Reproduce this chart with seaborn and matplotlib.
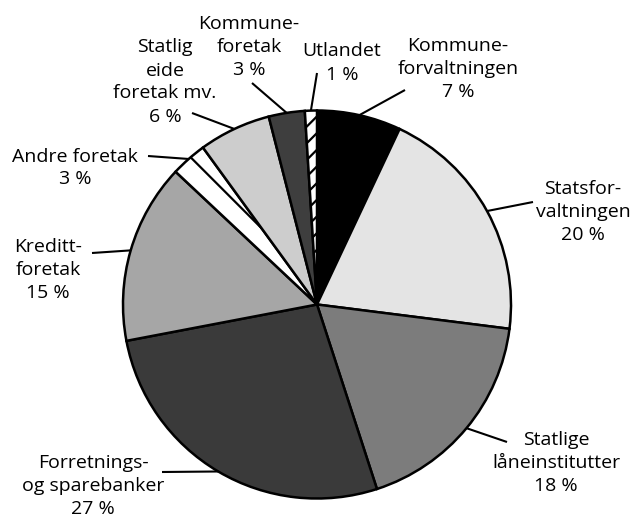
import matplotlib
matplotlib.use("Agg")
import matplotlib.pyplot as plt
import seaborn as sns
import numpy as np

sns.set_theme(style="white")
plt.rcParams['font.family'] = ['Open Sans', 'DejaVu Sans']
plt.rcParams['hatch.linewidth'] = 1.6

# Data
categories = ["Kommuneforvaltningen", "Statsforvaltningen", "Statlige låneinstitutter",
              "Forretnings- og sparebanker", "Kredittforetak", "Andre foretak",
              "Statlig eide foretak mv.", "Kommuneforetak", "Utlandet"]
values = [7, 20, 18, 27, 15, 3, 6, 3, 1]
labels = ["Kommune-\nforvaltningen", "Statsfor-\nvaltningen",
          "Statlige\nlåneinstitutter", "Forretnings-\nog sparebanker",
          "Kreditt-\nforetak", "Andre foretak",
          "Statlig\neide\nforetak mv.", "Kommune-\nforetak", "Utlandet"]

# Styles
colors = ["#000000", "#e4e4e4", "#7c7c7c", "#3a3a3a", "#a6a6a6",
          "#ffffff", "#cdcdcd", "#3e3e3e", "#ffffff"]
hatches = [None, None, None, None, None, "\\", None, None, "//"]

# Layout (pixel coordinates, y from top)
W, H = 637, 518
center_px = (317, 304.5)
radius = 194
line_gap = 23.0
text_pos = [(458, 67), (583, 210), (556, 461), (93, 484), (48, 268),
            (75, 166), (165, 80), (249, 45), (342, 61)]
line_end = [(405, 90), (533, 202), (507, 442), (162, 472), (92, 253),
            (148, 156), (192, 113), (252, 83), (317, 73)]

fig = plt.figure(figsize=(W / 100, H / 100), dpi=100)
ax = fig.add_axes([0, 0, 1, 1])

cx, cy = center_px[0], H - center_px[1]
wedges, _ = ax.pie(values, colors=colors, startangle=90, counterclock=False,
                   center=(cx, cy), radius=radius, frame=True,
                   wedgeprops=dict(edgecolor="black", linewidth=1.8))
for w, h in zip(wedges, hatches):
    if h:
        w.set_hatch(h)
ax.set_xlim(0, W)
ax.set_ylim(0, H)
ax.set_aspect("equal")
ax.axis("off")

for w, lab, v, tp, le in zip(wedges, labels, values, text_pos, line_end):
    mid = np.deg2rad((w.theta1 + w.theta2) / 2)
    sx = cx + radius * np.cos(mid)
    sy = cy + radius * np.sin(mid)
    ax.plot([sx, le[0]], [sy, H - le[1]], color="black", lw=1.5, solid_capstyle="butt")
    lines = lab.split("\n") + [f"{v} %"]
    n = len(lines)
    for i, s in enumerate(lines):
        y = tp[1] + (i - (n - 1) / 2) * line_gap
        ax.text(tp[0], H - y, s, ha="center", va="center_baseline", fontsize=14,
                color="black")

fig.savefig("out.png", dpi=100)
